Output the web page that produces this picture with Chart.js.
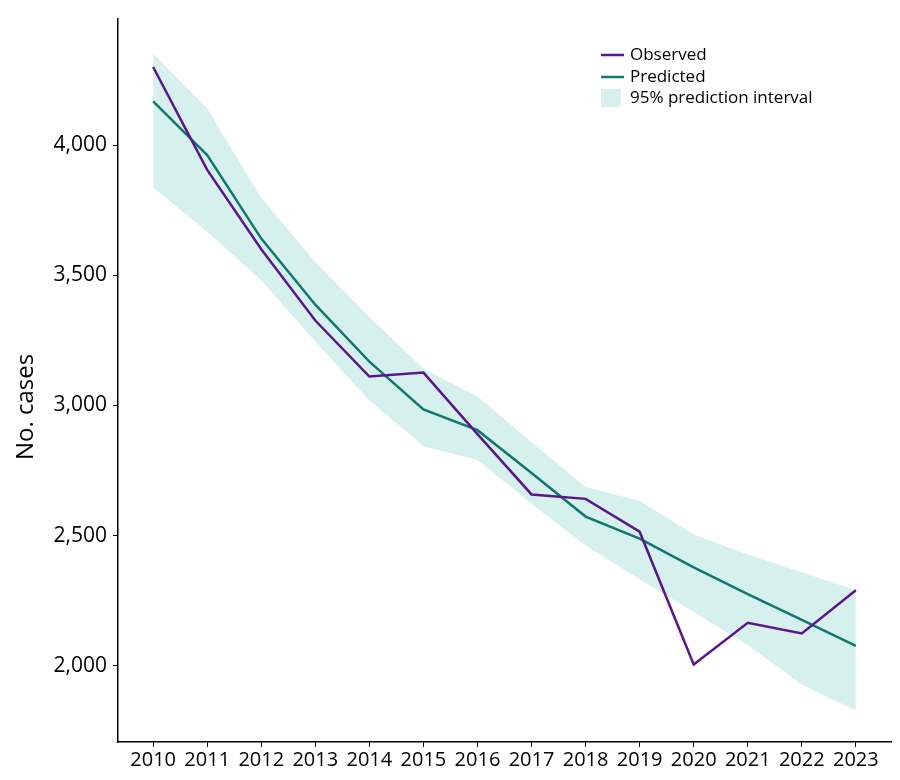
<!DOCTYPE html>
<html>
<head>
<meta charset="utf-8">
<script src="https://cdn.jsdelivr.net/npm/chart.js@4"></script>
<style>
  body { margin: 0; background: #fff; }
  #myChart { display: block; }
</style>
</head>
<body>
<canvas id="myChart" width="900" height="780"></canvas>
<script>
// data
const years = [2010, 2011, 2012, 2013, 2014, 2015, 2016, 2017, 2018, 2019, 2020, 2021, 2022, 2023];
const observed = [4300, 3905, 3600, 3326, 3111, 3126, 2890, 2658, 2641, 2515, 2005, 2165, 2124, 2290];
const predicted = [4168, 3962, 3641, 3387, 3168, 2985, 2905, 2740, 2573, 2488, 2378, 2275, 2176, 2076];
const upper = [4351, 4141, 3798, 3550, 3340, 3141, 3034, 2859, 2687, 2634, 2504, 2427, 2359, 2290];
const lower = [3836, 3668, 3481, 3246, 3020, 2843, 2790, 2622, 2462, 2332, 2206, 2080, 1927, 1828];
const yTicks = [2000, 2500, 3000, 3500, 4000];

const purple = "#5a168c";
const teal = "#12786f";
const band = "#d5f0ed";

function toPoints(values) {
  return years.map((yr, i) => ({ x: yr, y: values[i] }));
}

// y axis title + legend in the top right
const extras = {
  id: "extras",
  afterDraw(chart) {
    const ctx = chart.ctx;
    ctx.save();
    ctx.fillStyle = "#000";
    ctx.font = "24px 'Open Sans'";
    ctx.textAlign = "center";
    ctx.textBaseline = "alphabetic";
    ctx.translate(33, 407);
    ctx.rotate(-Math.PI / 2);
    ctx.fillText("No. cases", 0, 0);
    ctx.restore();

    const items = [
      { text: "Observed", type: "line", color: purple, y: 55 },
      { text: "Predicted", type: "line", color: teal, y: 77 },
      { text: "95% prediction interval", type: "box", color: band, y: 98 },
    ];
    ctx.save();
    ctx.font = "17px 'Open Sans'";
    ctx.textBaseline = "middle";
    ctx.textAlign = "left";
    items.forEach((it) => {
      if (it.type === "line") {
        ctx.strokeStyle = it.color;
        ctx.lineWidth = 2.5;
        ctx.beginPath();
        ctx.moveTo(601, it.y);
        ctx.lineTo(624, it.y);
        ctx.stroke();
      } else {
        ctx.fillStyle = it.color;
        ctx.fillRect(601, it.y - 9, 20, 18);
      }
      ctx.fillStyle = "#000";
      ctx.fillText(it.text, 630, it.y);
    });
    ctx.restore();
  },
};

const ctx = document.getElementById("myChart").getContext("2d");
const myChart = new Chart(ctx, {
  type: "line",
  data: {
    datasets: [
      {
        label: "upper",
        data: toPoints(upper),
        borderWidth: 0,
        pointRadius: 0,
        backgroundColor: band,
        fill: "+1",
        order: 10,
      },
      {
        label: "lower",
        data: toPoints(lower),
        borderWidth: 0,
        pointRadius: 0,
        fill: false,
        order: 11,
      },
      {
        label: "Predicted",
        data: toPoints(predicted),
        borderColor: teal,
        borderWidth: 2.5,
        pointRadius: 0,
        fill: false,
        order: 2,
      },
      {
        label: "Observed",
        data: toPoints(observed),
        borderColor: purple,
        borderWidth: 2.5,
        pointRadius: 0,
        fill: false,
        order: 1,
      },
    ],
  },
  options: {
    responsive: false,
    animation: false,
    devicePixelRatio: 1,
    layout: { padding: { top: 13, right: 9, left: 0, bottom: 0 } },
    plugins: {
      legend: { display: false },
      tooltip: { enabled: false },
    },
    scales: {
      x: {
        type: "linear",
        min: 2009.35,
        max: 2023.65,
        afterBuildTicks: (axis) => {
          axis.ticks = years.map((v) => ({ value: v }));
        },
        afterFit: (axis) => {
          axis.height = 38;
        },
        border: { color: "#000", width: 1.5 },
        grid: { drawOnChartArea: false, tickLength: 5, tickColor: "#000", tickWidth: 1 },
        ticks: {
          color: "#000",
          font: { family: "Open Sans", size: 20 },
          padding: 1,
          maxRotation: 0,
          autoSkip: false,
          callback: (v) => String(v),
        },
      },
      y: {
        min: 1707,
        max: 4486,
        afterBuildTicks: (axis) => {
          axis.ticks = yTicks.map((v) => ({ value: v }));
        },
        afterFit: (axis) => {
          axis.width = 118;
        },
        border: { color: "#000", width: 1.5 },
        grid: { drawOnChartArea: false, tickLength: 5, tickColor: "#000", tickWidth: 1 },
        ticks: {
          color: "#000",
          font: { family: "Open Sans", size: 21 },
          padding: 6,
          callback: (v) => v.toLocaleString("en-US"),
        },
      },
    },
  },
  plugins: [extras],
});
</script>
</body>
</html>
